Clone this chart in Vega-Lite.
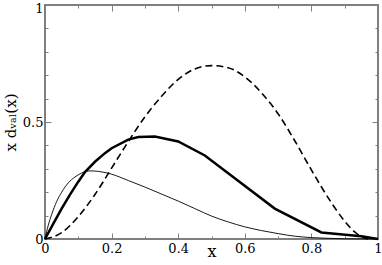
{
  "$schema": "https://vega.github.io/schema/vega-lite/v6.json",
  "width": 333,
  "height": 234,
  "autosize": {"type": "none"},
  "padding": {"left": 45, "top": 5, "right": 4, "bottom": 26},
  "background": "white",
  "config": {
    "view": {"stroke": "#7f7f7f", "strokeWidth": 2},
    "font": "DejaVu Serif",
    "axis": {
      "domain": false,
      "grid": false,
      "tickColor": "#7f7f7f",
      "tickWidth": 1
    }
  },
  "data": {
    "values": [
      {"x": 0, "y": 0, "s": "thin"},
      {"x": 0.01, "y": 0.06, "s": "thin"},
      {"x": 0.02, "y": 0.105, "s": "thin"},
      {"x": 0.035, "y": 0.16, "s": "thin"},
      {"x": 0.05, "y": 0.2, "s": "thin"},
      {"x": 0.07, "y": 0.24, "s": "thin"},
      {"x": 0.09, "y": 0.265, "s": "thin"},
      {"x": 0.11, "y": 0.282, "s": "thin"},
      {"x": 0.135, "y": 0.291, "s": "thin"},
      {"x": 0.16, "y": 0.289, "s": "thin"},
      {"x": 0.2, "y": 0.277, "s": "thin"},
      {"x": 0.25, "y": 0.25, "s": "thin"},
      {"x": 0.3, "y": 0.222, "s": "thin"},
      {"x": 0.35, "y": 0.192, "s": "thin"},
      {"x": 0.4, "y": 0.162, "s": "thin"},
      {"x": 0.45, "y": 0.13, "s": "thin"},
      {"x": 0.5, "y": 0.098, "s": "thin"},
      {"x": 0.55, "y": 0.073, "s": "thin"},
      {"x": 0.6, "y": 0.052, "s": "thin"},
      {"x": 0.65, "y": 0.036, "s": "thin"},
      {"x": 0.7, "y": 0.023, "s": "thin"},
      {"x": 0.75, "y": 0.012, "s": "thin"},
      {"x": 0.8, "y": 0.006, "s": "thin"},
      {"x": 0.85, "y": 0.003, "s": "thin"},
      {"x": 0.9, "y": 0.001, "s": "thin"},
      {"x": 1.0, "y": 0, "s": "thin"},
      {"x": 0, "y": 0, "s": "thick"},
      {"x": 0.025, "y": 0.066, "s": "thick"},
      {"x": 0.05, "y": 0.13, "s": "thick"},
      {"x": 0.075, "y": 0.19, "s": "thick"},
      {"x": 0.1, "y": 0.245, "s": "thick"},
      {"x": 0.12, "y": 0.286, "s": "thick"},
      {"x": 0.15, "y": 0.33, "s": "thick"},
      {"x": 0.18, "y": 0.367, "s": "thick"},
      {"x": 0.2, "y": 0.388, "s": "thick"},
      {"x": 0.25, "y": 0.425, "s": "thick"},
      {"x": 0.28, "y": 0.436, "s": "thick"},
      {"x": 0.33, "y": 0.438, "s": "thick"},
      {"x": 0.4, "y": 0.417, "s": "thick"},
      {"x": 0.48, "y": 0.357, "s": "thick"},
      {"x": 0.69, "y": 0.13, "s": "thick"},
      {"x": 0.83, "y": 0.028, "s": "thick"},
      {"x": 0.95, "y": 0.012, "s": "thick"},
      {"x": 1.0, "y": 0, "s": "thick"},
      {"x": 0, "y": 0, "s": "dash"},
      {"x": 0.05, "y": 0.027, "s": "dash"},
      {"x": 0.1, "y": 0.096, "s": "dash"},
      {"x": 0.15, "y": 0.19, "s": "dash"},
      {"x": 0.2, "y": 0.303, "s": "dash"},
      {"x": 0.25, "y": 0.416, "s": "dash"},
      {"x": 0.3, "y": 0.522, "s": "dash"},
      {"x": 0.35, "y": 0.61, "s": "dash"},
      {"x": 0.4, "y": 0.682, "s": "dash"},
      {"x": 0.45, "y": 0.727, "s": "dash"},
      {"x": 0.5, "y": 0.741, "s": "dash"},
      {"x": 0.55, "y": 0.732, "s": "dash"},
      {"x": 0.6, "y": 0.693, "s": "dash"},
      {"x": 0.65, "y": 0.625, "s": "dash"},
      {"x": 0.7, "y": 0.535, "s": "dash"},
      {"x": 0.75, "y": 0.42, "s": "dash"},
      {"x": 0.8, "y": 0.295, "s": "dash"},
      {"x": 0.85, "y": 0.177, "s": "dash"},
      {"x": 0.9, "y": 0.076, "s": "dash"},
      {"x": 0.93, "y": 0.03, "s": "dash"},
      {"x": 0.95, "y": 0.01, "s": "dash"},
      {"x": 0.97, "y": 0, "s": "dash"}
    ]
  },
  "resolve": {"axis": {"x": "independent", "y": "independent"}},
  "layer": [
    {
      "transform": [{"filter": "datum.s === 'thin'"}],
      "mark": {"type": "line", "color": "black", "strokeWidth": 0.9, "interpolate": "monotone"},
      "encoding": {
        "x": {"field": "x", "type": "quantitative", "scale": {"domain": [0, 1], "nice": false},
          "axis": {"orient": "bottom", "values": [0, 0.2, 0.4, 0.6, 0.8, 1], "tickSize": -6, "labelPadding": 9, "title": "x", "titlePadding": -12,
            "labelFont": "DejaVu Serif", "labelFontSize": 13, "labelColor": "#000000", "labelFlush": false, "labelOverlap": false,
            "titleFont": "DejaVu Serif", "titleFontSize": 16, "titleFontWeight": "normal", "titleColor": "#000000",
            "labelExpr": "datum.value == 0 ? '0' : datum.value == 1 ? '1' : format(datum.value, '.1f')"}},
        "y": {"field": "y", "type": "quantitative", "scale": {"domain": [0, 1], "nice": false},
          "axis": {"orient": "left", "values": [0, 0.5, 1], "tickSize": -6, "labelPadding": 8, "title": "x dᵥₐₗ(x)", "titlePadding": 4,
            "labelFont": "DejaVu Serif", "labelFontSize": 13, "labelColor": "#000000", "labelFlush": false, "labelOverlap": false,
            "titleFont": "DejaVu Serif", "titleFontSize": 15, "titleFontWeight": "normal", "titleColor": "#000000",
            "labelOffset": {"condition": {"test": "datum.value == 1", "value": 3}, "value": 0},
            "labelExpr": "datum.value == 0 ? '0' : datum.value == 1 ? '1' : format(datum.value, '.1f')"}}
      }
    },
    {
      "transform": [{"filter": "datum.s === 'thick'"}],
      "mark": {"type": "line", "color": "black", "strokeWidth": 2.5, "interpolate": "linear"},
      "encoding": {
        "x": {"field": "x", "type": "quantitative",
          "axis": {"orient": "top", "values": [0.2, 0.4, 0.6, 0.8], "tickSize": -6, "labels": false, "title": null}},
        "y": {"field": "y", "type": "quantitative",
          "axis": {"orient": "right", "values": [0.5], "tickSize": -6, "labels": false, "title": null}}
      }
    },
    {
      "transform": [{"filter": "datum.s === 'dash'"}],
      "mark": {"type": "line", "color": "black", "strokeWidth": 1.6, "strokeDash": [7, 4], "interpolate": "monotone"},
      "encoding": {
        "x": {"field": "x", "type": "quantitative",
          "axis": {"orient": "bottom", "values": [0.1, 0.3, 0.5, 0.7, 0.9], "tickSize": -3, "labels": false, "title": null}},
        "y": {"field": "y", "type": "quantitative",
          "axis": {"orient": "left", "values": [0.1, 0.2, 0.3, 0.4, 0.6, 0.7, 0.8, 0.9], "tickSize": -3, "labels": false, "title": null}}
      }
    },
    {
      "transform": [{"filter": "datum.s === 'dash'"}],
      "mark": {"type": "point", "opacity": 0},
      "encoding": {
        "x": {"field": "x", "type": "quantitative",
          "axis": {"orient": "top", "values": [0.1, 0.3, 0.5, 0.7, 0.9], "tickSize": -3, "labels": false, "title": null}},
        "y": {"field": "y", "type": "quantitative",
          "axis": {"orient": "right", "values": [0.1, 0.2, 0.3, 0.4, 0.6, 0.7, 0.8, 0.9], "tickSize": -3, "labels": false, "title": null}}
      }
    }
  ]
}
